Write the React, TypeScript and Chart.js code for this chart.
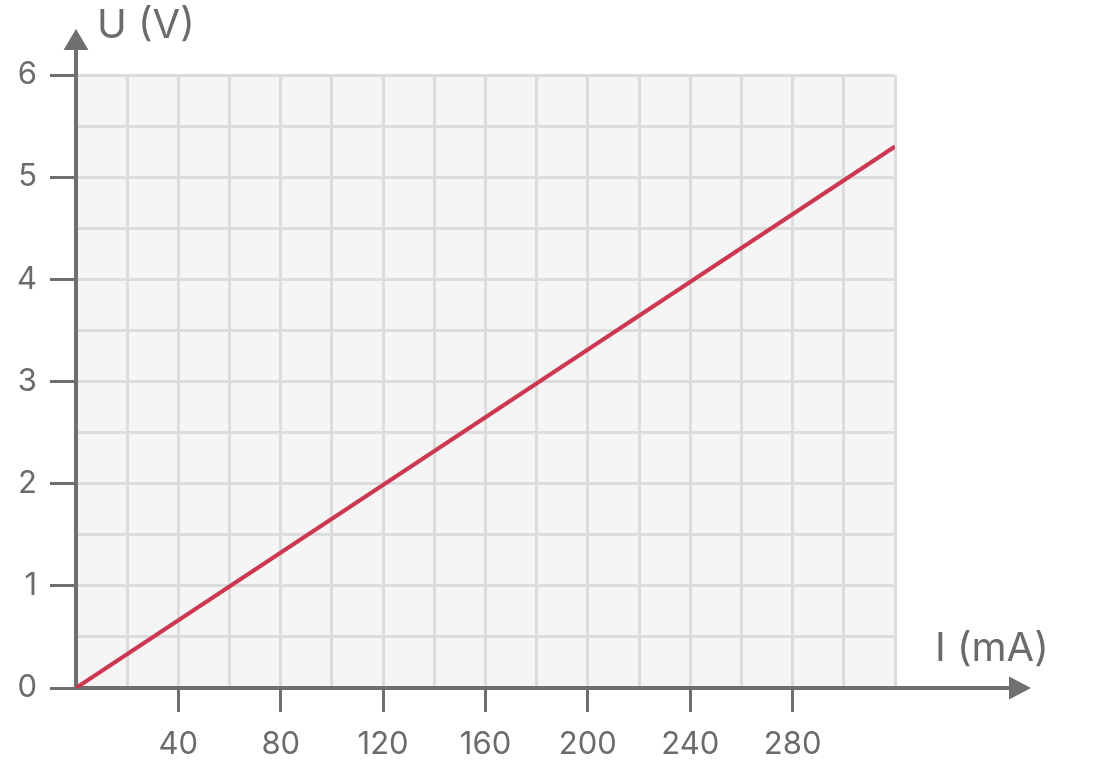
import React, { useEffect, useRef } from "react";
import { Chart, registerables } from "chart.js";

Chart.register(...registerables);

const currentMA = [0, 320];
const voltageV = [0, 5.3];
const xLabeled = [40, 80, 120, 160, 200, 240, 280];
const yLabeled = [0, 1, 2, 3, 4, 5, 6];
const xTitle = "I (mA)";
const yTitle = "U (V)";

const AXIS = "#6f6f6f";
const TEXT = "#6b6b6b";
const GRID = "#dcdcdc";
const BG = "#f5f5f5";
const LINE = "#cc3852";
const FONT = "Inter, 'Noto Sans', sans-serif";

const axesPlugin = {
  id: "axesPlugin",
  beforeDraw(chart: any) {
    const { ctx, chartArea } = chart;
    ctx.save();
    ctx.fillStyle = BG;
    ctx.fillRect(chartArea.left, chartArea.top, chartArea.right - chartArea.left, chartArea.bottom - chartArea.top);
    ctx.restore();
  },
  beforeDatasetsDraw(chart: any) {
    const { ctx, chartArea } = chart;
    const x0 = chart.scales.x.getPixelForValue(0);
    const y0 = chart.scales.y.getPixelForValue(0);
    ctx.save();
    ctx.strokeStyle = AXIS;
    ctx.fillStyle = AXIS;
    ctx.lineWidth = 4;
    ctx.lineCap = "butt";
    // y axis
    ctx.beginPath();
    ctx.moveTo(x0, y0 + 2);
    ctx.lineTo(x0, chartArea.top - 26);
    ctx.stroke();
    ctx.beginPath();
    ctx.moveTo(x0, chartArea.top - 46);
    ctx.lineTo(x0 - 12.5, chartArea.top - 25);
    ctx.lineTo(x0 + 12.5, chartArea.top - 25);
    ctx.closePath();
    ctx.fill();
    // x axis
    ctx.beginPath();
    ctx.moveTo(x0 - 2, y0);
    ctx.lineTo(chartArea.right + 116, y0);
    ctx.stroke();
    ctx.beginPath();
    ctx.moveTo(chartArea.right + 136, y0);
    ctx.lineTo(chartArea.right + 114, y0 - 11.5);
    ctx.lineTo(chartArea.right + 114, y0 + 11.5);
    ctx.closePath();
    ctx.fill();
    // titles
    ctx.fillStyle = TEXT;
    ctx.font = `40px ${FONT}`;
    ctx.textAlign = "left";
    ctx.textBaseline = "alphabetic";
    ctx.fillText(yTitle, x0 + 21, chartArea.top - 37);
    ctx.fillText(xTitle, chartArea.right + 40, y0 - 27);
    ctx.restore();
  },
};

export default function App() {
  const ref = useRef<HTMLCanvasElement | null>(null);
  useEffect(() => {
    if (!ref.current) return;
    const chart = new Chart(ref.current, {
      type: "scatter",
      data: {
        datasets: [
          {
            data: currentMA.map((x, i) => ({ x, y: voltageV[i] })),
            showLine: true,
            borderColor: LINE,
            borderWidth: 4,
            pointRadius: 0,
            fill: false,
          },
        ],
      },
      options: {
        animation: false,
        responsive: false,
        maintainAspectRatio: false,
        layout: { padding: { left: 0, top: 75, right: 206, bottom: 0 } },
        plugins: { legend: { display: false }, tooltip: { enabled: false } },
        scales: {
          x: {
            type: "linear",
            min: 0,
            max: 320,
            border: { display: false },
            afterFit: (s: any) => {
              s.height = 78;
            },
            grid: {
              color: (c: any) => (c.tick && c.tick.value === 0 ? "rgba(0,0,0,0)" : GRID),
              lineWidth: 3,
              drawTicks: true,
              tickLength: 24,
              tickWidth: 3,
              tickColor: (c: any) =>
                c.tick && xLabeled.includes(c.tick.value) ? AXIS : "rgba(0,0,0,0)",
            },
            ticks: {
              stepSize: 20,
              autoSkip: false,
              maxRotation: 0,
              color: TEXT,
              padding: 14,
              font: { size: 31, family: FONT },
              callback: (v: any) => (xLabeled.includes(Number(v)) ? String(v) : ""),
            },
          },
          y: {
            type: "linear",
            min: 0,
            max: 6,
            border: { display: false },
            afterFit: (s: any) => {
              s.width = 76;
            },
            grid: {
              color: (c: any) => (c.tick && c.tick.value === 0 ? "rgba(0,0,0,0)" : GRID),
              lineWidth: 3,
              drawTicks: true,
              tickLength: 26,
              tickWidth: 3,
              tickColor: (c: any) =>
                c.tick && yLabeled.includes(c.tick.value) ? AXIS : "rgba(0,0,0,0)",
            },
            ticks: {
              stepSize: 0.5,
              autoSkip: false,
              color: TEXT,
              padding: 13,
              font: { size: 31, family: FONT },
              callback: (v: any) => (yLabeled.includes(Number(v)) ? String(v) : ""),
            },
          },
        },
      },
      plugins: [axesPlugin],
    });
    return () => chart.destroy();
  }, []);
  return (
    <div style={{ position: "absolute", left: 0, top: 0, width: 1101, height: 766 }}>
      <canvas ref={ref} width={1101} height={766} style={{ width: 1101, height: 766, display: "block" }} />
    </div>
  );
}
